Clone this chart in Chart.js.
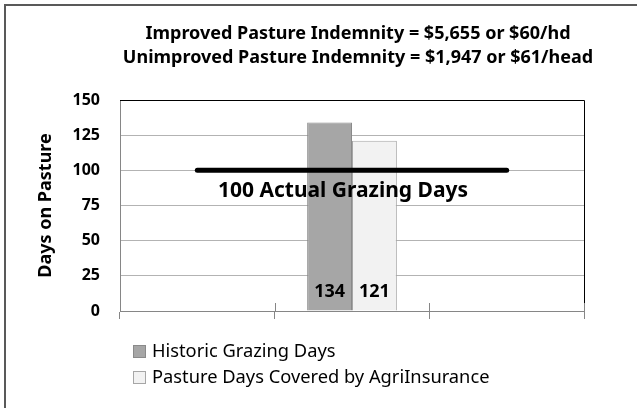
<!DOCTYPE html>
<html>
<head>
<meta charset="utf-8">
<script src="https://cdn.jsdelivr.net/npm/chart.js@4.4.1/dist/chart.umd.min.js"></script>
<style>
  html, body { margin: 0; padding: 0; background: #fff; overflow: hidden; }
  #wrap { position: relative; width: 637px; height: 408px; overflow: hidden; }
  #frame { position: absolute; left: 4px; top: 4px; width: 800px; height: 800px;
           border: 2px solid #595959; pointer-events: none; }
</style>
</head>
<body>
<div id="wrap">
  <canvas id="chart" width="637" height="408"></canvas>
  <div id="frame"></div>
</div>
<script>
const titleLines = [
  "Improved Pasture Indemnity = $5,655 or $60/hd",
  "Unimproved Pasture Indemnity = $1,947 or $61/head"
];
const categories = ["", "", ""];
const seriesNames = ["Historic Grazing Days", "Pasture Days Covered by AgriInsurance"];
const historicDays = [null, 134, null];
const coveredDays = [null, 121, null];
const actualDays = [100, 100, 100];
const actualLabel = "100 Actual Grazing Days";
const yTicks = [0, 25, 50, 75, 100, 125, 150];

const FONT = '"Noto Sans", "Open Sans", sans-serif';
Chart.defaults.font.family = FONT;
Chart.defaults.color = "#000";

// title, plot border, bar labels, annotation and legend
const extras = {
  id: "extras",
  beforeDatasetsDraw(chart) {
    const { ctx, chartArea: a, scales } = chart;
    ctx.save();
    ctx.strokeStyle = "#000";
    ctx.lineWidth = 1;
    ctx.beginPath();
    ctx.moveTo(a.left, a.top + 0.5);
    ctx.lineTo(a.right + 0.5, a.top + 0.5);
    ctx.lineTo(a.right + 0.5, a.bottom);
    ctx.stroke();

    // upper half of the crossing x tick marks
    const xs = scales.x;
    const step = xs.getPixelForValue(1) - xs.getPixelForValue(0);
    ctx.strokeStyle = "#868686";
    ctx.beginPath();
    for (let i = 1; i <= categories.length; i++) {
      const x = Math.round(xs.getPixelForValue(i) - step / 2) + 0.5;
      ctx.moveTo(x, a.bottom - 8);
      ctx.lineTo(x, a.bottom);
    }
    ctx.stroke();
    ctx.restore();
  },
  afterDatasetsDraw(chart) {
    const { ctx, chartArea: a, scales } = chart;
    ctx.save();

    // title
    ctx.fillStyle = "#000";
    ctx.textAlign = "center";
    ctx.textBaseline = "middle";
    ctx.font = "bold 18px " + FONT;
    const cx = (a.left + a.right) / 2 + 6;
    titleLines.forEach((t, i) => ctx.fillText(t, cx, 34 + i * 24));

    // annotation under the line
    ctx.font = "bold 21px " + FONT;
    ctx.fillText(actualLabel, scales.x.getPixelForValue(1) - 9, scales.y.getPixelForValue(actualDays[1]) + 21);

    // values inside bars
    ctx.font = "bold 18px " + FONT;
    [0, 1].forEach((di) => {
      chart.getDatasetMeta(di).data.forEach((bar, i) => {
        const v = chart.data.datasets[di].data[i];
        if (v == null) return;
        ctx.fillText(String(v), bar.x, bar.base - 19);
      });
    });

    // legend
    ctx.font = "18.3px " + FONT;
    ctx.textAlign = "left";
    [0, 1].forEach((di) => {
      const ds = chart.data.datasets[di];
      const y = 351 + di * 26;
      ctx.fillStyle = ds.backgroundColor;
      ctx.fillRect(133, y - 6, 12, 12);
      ctx.strokeStyle = ds.borderColor;
      ctx.lineWidth = 1;
      ctx.strokeRect(133.5, y - 5.5, 12, 12);
      ctx.fillStyle = "#000";
      ctx.fillText(ds.label, 152, y + 1);
    });
    ctx.restore();
  }
};

new Chart(document.getElementById("chart"), {
  data: {
    labels: categories,
    datasets: [
      {
        type: "bar",
        label: seriesNames[0],
        data: historicDays,
        backgroundColor: "#a6a6a6",
        borderColor: "#8a8a8a",
        borderWidth: 1,
        categoryPercentage: 0.58,
        barPercentage: 1,
        order: 1
      },
      {
        type: "bar",
        label: seriesNames[1],
        data: coveredDays,
        backgroundColor: "#f2f2f2",
        borderColor: "#a6a6a6",
        borderWidth: 1,
        categoryPercentage: 0.58,
        barPercentage: 1,
        order: 1
      },
      {
        type: "line",
        label: "Actual Grazing Days",
        data: actualDays,
        borderColor: "#000",
        borderWidth: 5,
        borderCapStyle: "round",
        pointRadius: 0,
        fill: false,
        order: 0
      }
    ]
  },
  options: {
    responsive: false,
    animation: false,
    layout: { padding: { left: 0, right: 53, top: 100, bottom: 85 } },
    plugins: {
      legend: { display: false },
      title: { display: false },
      tooltip: { enabled: false }
    },
    scales: {
      x: {
        type: "category",
        offset: true,
        ticks: { display: false },
        grid: {
          display: true,
          offset: true,
          drawOnChartArea: false,
          drawTicks: true,
          tickLength: 8,
          color: "#868686"
        },
        border: { color: "#868686" },
        afterFit: (s) => { s.height = 12; }
      },
      y: {
        min: 0,
        max: 150,
        afterBuildTicks: (s) => { s.ticks = yTicks.map((v) => ({ value: v })); },
        ticks: {
          padding: 20,
          font: { size: 16, weight: "bold" },
          color: "#000"
        },
        grid: { color: "#b3b3b3", drawTicks: false },
        border: { color: "#868686" },
        title: {
          display: true,
          text: "Days on Pasture",
          font: { size: 18, weight: "bold" },
          color: "#000",
          padding: { top: 35, bottom: 0 }
        },
        afterFit: (s) => { s.width = 120; }
      }
    }
  },
  plugins: [extras]
});
</script>
</body>
</html>
